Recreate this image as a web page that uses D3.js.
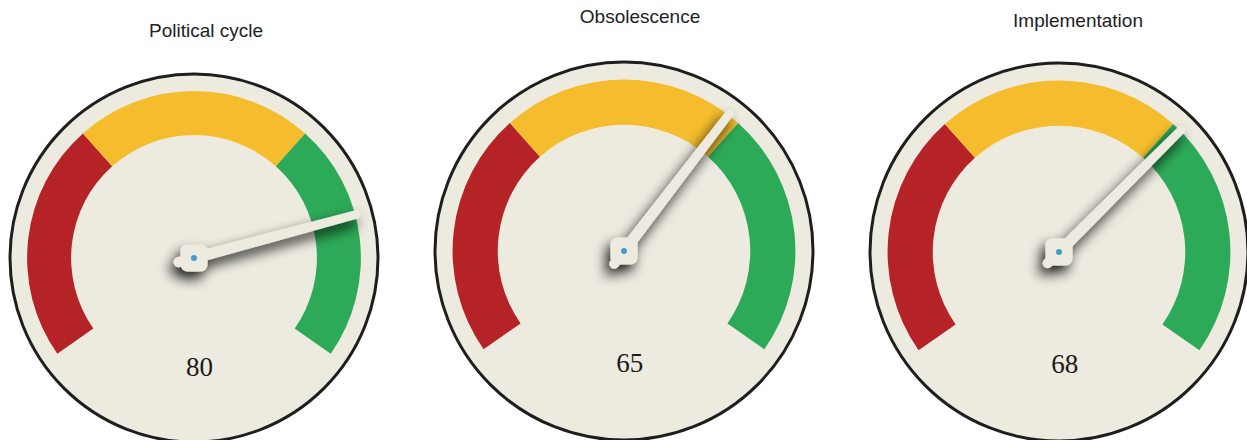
<!DOCTYPE html>
<html>
<head>
<meta charset="utf-8">
<script src="https://cdn.jsdelivr.net/npm/d3@7"></script>
<style>
  html, body { margin: 0; padding: 0; background: #fff; }
  svg { display: block; }
</style>
</head>
<body>
<script>
// gauge data
var titles = ['Political cycle', 'Obsolescence', 'Implementation']
var values = [80, 65, 68]

// colour bands along the 0..100 scale (yellow is split in two at the middle)
var bandStops = [0, 33.3, 50, 66.7, 100]
var bandColors = ['#b52327', '#f5bd2d', '#f5bd2d', '#2daa57']

// where each dial sits on the page
var layout = [
  { cx: 194, cy: 258, r: 184, tx: 206, ty: 37 },
  { cx: 624, cy: 251, r: 189, tx: 640, ty: 23 },
  { cx: 1059, cy: 252, r: 189, tx: 1078, ty: 27 }
]

var width = 1247, height = 440
var faceColor = '#edebe0'

var svg = d3.select('body').append('svg')
  .attr('width', width)
  .attr('height', height)

// soft shadow under the needle (region is in the dial's own coordinates)
var filter = svg.append('defs').append('filter')
  .attr('id', 'needle-shadow')
  .attr('filterUnits', 'userSpaceOnUse')
  .attr('x', -300).attr('y', -300)
  .attr('width', 600).attr('height', 600)
filter.append('feGaussianBlur')
  .attr('in', 'SourceAlpha')
  .attr('stdDeviation', 6.5)
  .attr('result', 'blur')
filter.append('feOffset')
  .attr('in', 'blur')
  .attr('dx', -4)
  .attr('dy', 7)
  .attr('result', 'off')
filter.append('feComponentTransfer')
  .attr('in', 'off')
  .attr('result', 'shadow')
  .append('feFuncA').attr('type', 'linear').attr('slope', 0.9)
var merge = filter.append('feMerge')
merge.append('feMergeNode').attr('in', 'shadow')
merge.append('feMergeNode').attr('in', 'SourceGraphic')

var angle = d3.scaleLinear().domain([0, 100]).range([-125, 125])
var toRad = Math.PI / 180

function drawGauge(i) {
  var L = layout[i]
  var r = L.r
  var g = svg.append('g')
    .attr('transform', 'translate(' + L.cx + ',' + L.cy + ')')

  g.append('circle')
    .attr('r', r)
    .attr('fill', faceColor)
    .attr('stroke', '#1e1e1e')
    .attr('stroke-width', 3)

  var arc = d3.arc()
    .innerRadius(r * 0.668)
    .outerRadius(r * 0.907)

  var bands = d3.range(bandColors.length).map(function(k) {
    return { from: bandStops[k], to: bandStops[k + 1], color: bandColors[k] }
  })

  g.selectAll('path.band')
    .data(bands)
    .enter().append('path')
      .attr('class', 'band')
      .attr('d', function(d) {
        return arc({ startAngle: angle(d.from) * toRad, endAngle: angle(d.to) * toRad })
      })
      .attr('fill', function(d) { return d.color })

  // value text
  g.append('text')
    .attr('x', r * 0.03)
    .attr('y', r * 0.64)
    .attr('text-anchor', 'middle')
    .attr('font-family', '"Liberation Serif", "DejaVu Serif", serif')
    .attr('font-size', 27)
    .attr('fill', '#1a1a1a')
    .text(values[i])

  // needle, drawn pointing up and then rotated
  var len = r * 0.915
  var needle = g.append('g')
    .attr('filter', 'url(#needle-shadow)')

  var hand = needle.append('g')
    .attr('transform', 'rotate(' + angle(values[i]) + ')')

  var bw = 5.6, tw = 4.2
  hand.append('path')
    .attr('d', 'M' + (-bw) + ',0 L' + (-tw) + ',' + (-len) +
      ' A' + tw + ',' + tw + ' 0 0 1 ' + tw + ',' + (-len) +
      ' L' + bw + ',0 Z')
    .attr('fill', faceColor)

  // short tail behind the pivot
  hand.append('line')
    .attr('x1', 0).attr('y1', 0)
    .attr('x2', 0).attr('y2', 16)
    .attr('stroke', faceColor)
    .attr('stroke-width', 10)
    .attr('stroke-linecap', 'round')

  needle.append('rect')
    .attr('x', -13.5).attr('y', -13.5)
    .attr('width', 27).attr('height', 27)
    .attr('rx', 7)
    .attr('fill', faceColor)

  g.append('circle')
    .attr('r', 3)
    .attr('fill', '#3f9fc6')

  // title
  svg.append('text')
    .attr('x', L.tx)
    .attr('y', L.ty)
    .attr('text-anchor', 'middle')
    .attr('font-family', '"Liberation Sans", Arial, sans-serif')
    .attr('font-size', 19)
    .attr('fill', '#222')
    .text(titles[i])
}

for (var i = 0; i < titles.length; i++) {
  drawGauge(i)
}
</script>
</body>
</html>
